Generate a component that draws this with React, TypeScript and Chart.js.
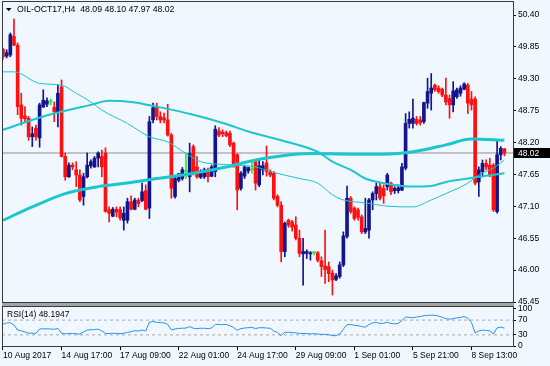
import { useEffect, useRef } from 'react';
import { Chart, registerables } from 'chart.js';

Chart.register(...registerables);

// ---- data (OIL-OCT17, H4) ----
const opens = [
  49.81, 49.69, 49.71, 50.03, 49.88, 48.85, 48.66, 48.62, 48.30, 48.45,
  48.28, 48.81, 48.86, 48.90, 48.81, 48.73, 49.16, 47.96, 47.61, 47.81,
  47.73, 47.64, 47.27, 47.61, 47.80, 47.78, 47.93, 47.96, 48.02, 47.04,
  46.93, 47.05, 47.04, 46.86, 46.86, 47.18, 47.05, 47.20, 47.20, 47.37,
  47.07, 48.59, 48.81, 48.65, 48.63, 48.59, 48.33, 47.27, 47.55, 47.58,
  47.70, 47.61, 48.13, 47.78, 47.60, 47.61, 47.73, 47.62, 47.70, 48.40,
  48.38, 48.37, 48.36, 48.19, 47.99, 47.41, 47.62, 47.71, 47.73, 47.87,
  47.47, 47.73, 47.85, 47.70, 47.67, 47.27, 47.12, 46.32, 46.86, 46.83,
  46.78, 46.55, 46.28, 46.29, 46.28, 46.30, 46.30, 46.16, 46.07, 46.06,
  45.95, 45.84, 45.89, 46.09, 46.58, 47.24, 47.07, 47.04, 46.92, 46.66,
  46.69, 47.21, 47.32, 47.44, 47.41, 47.44, 47.50, 47.37, 47.37, 47.38,
  47.76, 48.53, 48.53, 48.60, 48.59, 48.56, 48.88, 49.05, 49.19, 49.14,
  49.12, 49.02, 48.96, 48.85, 48.99, 49.05, 49.12, 49.19, 48.95, 48.95,
  47.52, 47.70, 47.84, 47.81, 47.81, 47.01, 47.99, 48.09,
];
const highs = [
  49.83, 49.80, 50.09, 50.33, 49.92, 49.05, 48.82, 48.65, 48.47, 48.50,
  48.88, 49.11, 48.97, 48.95, 48.90, 49.19, 49.28, 48.02, 47.85, 47.85,
  47.87, 47.73, 47.67, 48.02, 47.90, 47.96, 48.04, 48.07, 48.11, 47.09,
  47.08, 47.09, 47.09, 47.09, 47.24, 47.28, 47.24, 47.24, 47.50, 47.47,
  48.65, 48.88, 48.88, 48.73, 48.71, 48.86, 48.36, 47.61, 47.67, 47.77,
  48.02, 48.19, 48.16, 47.96, 47.73, 47.76, 47.76, 47.81, 48.49, 48.46,
  48.42, 48.40, 48.40, 48.21, 48.01, 47.70, 47.81, 47.78, 47.87, 47.91,
  47.90, 47.87, 48.14, 47.73, 47.70, 47.30, 47.18, 46.83, 46.88, 46.86,
  46.92, 46.69, 46.55, 46.35, 46.32, 46.32, 46.32, 46.23, 46.69, 46.14,
  46.00, 45.94, 46.14, 46.66, 47.45, 47.27, 47.09, 47.07, 46.95, 47.24,
  47.24, 47.35, 47.50, 47.50, 47.47, 47.67, 47.52, 47.44, 47.47, 47.84,
  48.70, 48.73, 48.95, 48.65, 48.65, 48.90, 49.31, 49.39, 49.21, 49.18,
  49.14, 49.31, 49.02, 49.25, 49.14, 49.18, 49.23, 49.22, 49.08, 48.99,
  47.78, 47.90, 47.90, 47.93, 47.84, 48.24, 48.13, 48.10,
];
const lows = [
  49.64, 49.66, 49.68, 49.87, 48.68, 48.50, 48.56, 48.24, 48.13, 48.24,
  48.12, 48.81, 48.82, 48.85, 48.56, 48.47, 47.95, 47.55, 47.60, 47.73,
  47.44, 47.18, 47.12, 47.59, 47.76, 47.77, 47.78, 47.61, 47.00, 46.83,
  46.92, 46.92, 46.86, 46.69, 46.81, 47.04, 47.04, 47.09, 47.18, 47.04,
  46.89, 48.54, 48.59, 48.54, 48.54, 48.31, 47.24, 47.24, 47.52, 47.55,
  47.58, 47.35, 47.64, 47.58, 47.58, 47.58, 47.52, 47.61, 47.61, 48.30,
  48.30, 48.30, 48.13, 47.78, 47.04, 47.38, 47.58, 47.67, 47.67, 47.38,
  47.44, 47.64, 47.62, 47.61, 47.21, 47.09, 46.14, 46.23, 46.74, 46.67,
  46.52, 46.23, 45.74, 46.20, 46.17, 46.26, 46.14, 45.89, 45.77, 45.80,
  45.57, 45.82, 45.86, 46.06, 46.55, 46.98, 46.86, 46.86, 46.63, 46.63,
  46.55, 47.04, 47.21, 47.21, 47.15, 47.38, 47.30, 47.32, 47.33, 47.37,
  47.73, 48.45, 48.45, 48.50, 48.50, 48.53, 48.79, 48.76, 49.08, 49.05,
  48.99, 48.85, 48.62, 48.73, 48.96, 49.00, 49.11, 48.70, 48.76, 47.47,
  47.27, 47.61, 47.73, 47.61, 47.01, 46.98, 47.90, 47.97,
];
const closes = [
  49.68, 49.75, 50.06, 49.88, 48.82, 48.62, 48.61, 48.30, 48.35, 48.30,
  48.85, 48.93, 48.92, 48.90, 48.73, 49.05, 47.96, 47.61, 47.81, 47.78,
  47.64, 47.21, 47.61, 47.81, 47.87, 47.93, 48.02, 47.78, 47.01, 46.98,
  47.05, 47.00, 46.90, 46.98, 47.18, 47.05, 47.21, 47.15, 47.35, 47.05,
  48.56, 48.80, 48.65, 48.59, 48.59, 48.33, 47.41, 47.58, 47.66, 47.73,
  47.70, 48.01, 47.67, 47.61, 47.68, 47.73, 47.61, 47.78, 48.43, 48.33,
  48.35, 48.32, 48.16, 47.78, 47.38, 47.67, 47.78, 47.77, 47.73, 47.50,
  47.80, 47.80, 47.70, 47.64, 47.24, 47.12, 46.32, 46.81, 46.78, 46.74,
  46.55, 46.29, 46.32, 46.32, 46.30, 46.30, 46.17, 46.06, 46.01, 45.94,
  45.83, 45.90, 46.09, 46.59, 47.24, 47.01, 46.89, 46.91, 46.66, 46.72,
  47.21, 47.32, 47.44, 47.24, 47.28, 47.64, 47.35, 47.41, 47.42, 47.78,
  48.53, 48.60, 48.62, 48.53, 48.54, 48.89, 49.08, 49.14, 49.11, 49.08,
  49.02, 48.90, 48.85, 49.09, 49.11, 49.14, 49.21, 48.88, 48.85, 47.50,
  47.73, 47.84, 47.78, 47.64, 47.04, 47.99, 48.10, 48.02,
];
const rsiValues = [
  59, 62, 63, 57, 43, 41, 38, 34.5, 34.5, 34,
  46, 46.5, 46.5, 46, 45, 47.5, 34.5, 33, 34, 34,
  33, 32, 38, 43, 44, 44.5, 45.5, 40.5, 34, 33.5,
  34.5, 34, 33.5, 34.5, 36.5, 39, 41.5, 40.5, 43, 40.5,
  64.5, 66, 64, 63, 62.5, 58.5, 43.5, 46, 47.5, 48,
  48.5, 52.5, 48, 47, 48, 48, 47, 48.5, 58.5, 58,
  58, 58, 55, 50, 42.5, 47, 48.5, 49.5, 50.5, 47,
  49.5, 49.5, 48.5, 48, 40.5, 36.5, 28, 37, 37, 36.5,
  35.5, 34, 34, 33.5, 33, 33, 32.5, 31.5, 31.5, 30.5,
  28, 28, 32.5, 45.5, 58, 58, 56, 55, 52.5, 51,
  58, 62.5, 63.5, 61, 61.5, 64, 61, 60, 61, 69,
  78.5, 77.5, 76.5, 78.5, 79.5, 82, 83, 83, 83, 81,
  77.5, 74, 72.5, 74, 76, 77.5, 79.5, 75, 63.5, 35,
  41, 43, 42, 41, 32.5, 49, 51, 48.1947,
];

// moving averages read at selected bars
const slowMaBars = [0, 8, 17, 26, 35, 42, 52, 61, 69, 76, 84, 95, 104, 112, 121, 128, 137];
const slowMaValues = [46.86, 47.09, 47.32, 47.44, 47.51, 47.58, 47.67, 47.78, 47.9, 47.97, 48.01, 48.0, 48.0, 48.04, 48.16, 48.26, 48.24];
const midMaBars = [0, 11, 24, 29, 35, 42, 52, 61, 67, 76, 86, 90, 95, 99, 104, 112, 117, 121, 127, 130, 137];
const midMaValues = [48.42, 48.65, 48.85, 48.92, 48.9, 48.82, 48.68, 48.52, 48.39, 48.24, 48.04, 47.87, 47.73, 47.58, 47.5, 47.44, 47.45, 47.52, 47.58, 47.61, 47.67];
const thinMaBars = [0, 3, 10, 16, 20, 24, 27, 34, 40, 45, 50, 54, 61, 69, 73, 81, 86, 90, 93, 99, 104, 112, 117, 121, 127, 130, 134, 137];
const thinMaValues = [49.42, 49.42, 49.22, 49.19, 49.05, 48.9, 48.76, 48.53, 48.3, 48.21, 48.01, 47.87, 47.82, 47.78, 47.7, 47.58, 47.5, 47.3, 47.21, 47.16, 47.11, 47.09, 47.21, 47.32, 47.5, 47.64, 47.76, 47.9];

const timeTickBars = [0, 16, 32, 48, 64, 80, 96, 112, 128];
const timeTickLabels = ['10 Aug 2017', '14 Aug 17:00', '17 Aug 09:00', '22 Aug 01:00', '24 Aug 17:00', '29 Aug 09:00', '1 Sep 01:00', '5 Sep 21:00', '8 Sep 13:00'];
const priceTicks = [45.45, 46.0, 46.55, 47.1, 47.65, 48.2, 48.75, 49.3, 49.85, 50.4];
const rsiTicks = [0, 30, 70, 100];
const rsiLevels = [30, 70];
const symbolName = 'OIL-OCT17,H4';
const rsiName = 'RSI(14)';

// ---- styling / layout ----
const BG = '#F0F7FE';
const BULL = '#14148c';
const BEAR = '#ff1010';
const DOJI = '#2ee82e';
const MA_COLOR = '#1cc6ce';
const FONT = { family: 'Liberation Sans, Arial, sans-serif', size: 8.5 };

const X_MIN = -0.273;
const X_MAX = 139.344;
// price pane spans the top 306 px of the plot, RSI pane the bottom 39 px
const PRICE_PANE = 306;
const RSI_PANE = 39;
const P_MAX = 50.6415;
const P_MIN = 45.3638;
const R_MAX = 105.4;

export default function App() {
  const ref = useRef<HTMLCanvasElement | null>(null);

  useEffect(() => {
    document.body.style.margin = '0';
    const canvas = ref.current;
    if (!canvas) return;
    const n = closes.length;
    const idx = closes.map((_, i) => i);
    const colorOf = (i: number) => (closes[i] > opens[i] ? BULL : closes[i] < opens[i] ? BEAR : DOJI);
    const last = n - 1;

    const overlay = {
      id: 'mt4overlay',
      beforeDraw(chart: any) {
        const c = chart.ctx;
        c.save();
        c.fillStyle = BG;
        c.fillRect(0, 0, chart.width, chart.height);
        c.restore();
      },
      afterDraw(chart: any) {
        const c = chart.ctx as CanvasRenderingContext2D;
        const area = chart.chartArea;
        const yS = chart.scales.y;
        c.save();
        // separator between panes
        c.fillStyle = '#a4a4a4';
        c.fillRect(area.left, 303, area.right - area.left + 1, 4);
        c.strokeStyle = '#555555';
        c.lineWidth = 1;
        c.beginPath();
        c.moveTo(area.left, 302.5); c.lineTo(area.right + 1, 302.5);
        c.moveTo(area.left, 306.5); c.lineTo(area.right + 1, 306.5);
        c.stroke();
        // frames
        c.strokeStyle = '#3a3a3a';
        c.strokeRect(area.left + 0.5, area.top + 0.5, area.right - area.left, 302 - area.top);
        c.strokeRect(area.left + 0.5, 306.5, area.right - area.left, area.bottom - 306);
        // title
        c.fillStyle = '#000';
        c.beginPath();
        c.moveTo(6, 8); c.lineTo(11.5, 8); c.lineTo(8.75, 11.2); c.closePath();
        c.fill();
        c.font = `8.7px ${FONT.family}`;
        c.textBaseline = 'middle';
        c.textAlign = 'left';
        const f = (v: number) => v.toFixed(2);
        c.fillText(`${symbolName}  ${f(opens[last])} ${f(highs[last])} ${f(lows[last])} ${f(closes[last])}`, 17, 9.5);
        c.font = `8.5px ${FONT.family}`;
        c.fillText(`${rsiName} ${rsiValues[last].toFixed(4)}`, 7, 315);
        // current price tag
        const py = yS.getPixelForValue(closes[last]);
        c.fillStyle = '#000';
        c.fillRect(514, Math.round(py) - 5, 36, 10);
        c.fillStyle = '#fff';
        c.fillText(closes[last].toFixed(2), 518, Math.round(py) + 0.5);
        c.restore();
      },
    };

    const line = (bars: number[], vals: number[], width: number, order: number) => ({
      type: 'line',
      yAxisID: 'y',
      data: bars.map((b, k) => ({ x: b, y: vals[k] })),
      borderColor: MA_COLOR,
      borderWidth: width,
      pointRadius: 0,
      cubicInterpolationMode: 'monotone',
      order,
    });

    const chart = new Chart(canvas, {
      type: 'bar',
      data: {
        datasets: [
          {
            type: 'line',
            yAxisID: 'yRsi',
            data: rsiValues.map((v, i) => ({ x: i, y: v })),
            borderColor: '#2b93f0',
            borderWidth: 1,
            pointRadius: 0,
            order: 0,
          },
          ...rsiLevels.map((lv) => ({
            type: 'line',
            yAxisID: 'yRsi',
            data: [{ x: X_MIN, y: lv }, { x: X_MAX, y: lv }],
            borderColor: '#a9a9a9',
            borderWidth: 1,
            borderDash: [3, 3],
            pointRadius: 0,
            order: 1,
          })),
          line(thinMaBars, thinMaValues, 1, 1),
          line(midMaBars, midMaValues, 2, 2),
          line(slowMaBars, slowMaValues, 3, 3),
          {
            type: 'bar',
            yAxisID: 'y',
            data: idx.map((i) => ({ x: i, y: [opens[i], closes[i]] })),
            backgroundColor: idx.map(colorOf),
            barThickness: 3,
            minBarLength: 1,
            grouped: false,
            order: 4,
          },
          {
            type: 'bar',
            yAxisID: 'y',
            data: idx.map((i) => ({ x: i, y: [lows[i], highs[i]] })),
            backgroundColor: idx.map(colorOf),
            barThickness: 1,
            grouped: false,
            order: 5,
          },
          {
            type: 'line',
            yAxisID: 'y',
            data: [{ x: X_MIN, y: closes[last] }, { x: X_MAX, y: closes[last] }],
            borderColor: '#8e8e8e',
            borderWidth: 1,
            pointRadius: 0,
            order: 6,
          },
        ] as any,
      },
      options: {
        responsive: false,
        animation: false,
        devicePixelRatio: 1,
        events: [],
        layout: { padding: { left: 2, top: 1, right: 0, bottom: 0 } },
        plugins: { legend: { display: false }, tooltip: { enabled: false } },
        scales: {
          x: {
            type: 'linear',
            offset: false,
            min: X_MIN,
            max: X_MAX,
            afterBuildTicks: (s: any) => { s.ticks = timeTickBars.map((v) => ({ value: v })); },
            afterFit: (s: any) => { s.height = 20; s.paddingLeft = 0; s.paddingRight = 0; },
            ticks: {
              callback: (_v: any, i: number) => timeTickLabels[i],
              align: 'start',
              maxRotation: 0,
              minRotation: 0,
              autoSkip: false,
              padding: 1,
              color: '#000',
              font: FONT,
            },
            grid: { offset: false, drawOnChartArea: false, drawTicks: true, tickLength: 4, color: '#000' },
            border: { display: false },
          },
          y: {
            type: 'linear',
            position: 'right',
            stack: 'panes',
            stackWeight: PRICE_PANE,
            weight: 0,
            min: P_MIN,
            max: P_MAX,
            afterBuildTicks: (s: any) => { s.ticks = priceTicks.map((v) => ({ value: v })); },
            afterFit: (s: any) => { s.width = 37; s.paddingTop = 0; s.paddingBottom = 0; },
            ticks: { autoSkip: false, padding: 2, color: '#000', font: FONT, callback: (v: any) => Number(v).toFixed(2) },
            grid: { drawOnChartArea: false, drawTicks: true, tickLength: 3, color: '#000' },
            border: { display: false },
          },
          yRsi: {
            type: 'linear',
            axis: 'y',
            position: 'right',
            stack: 'panes',
            stackWeight: RSI_PANE,
            weight: 1,
            min: 0,
            max: R_MAX,
            afterBuildTicks: (s: any) => { s.ticks = rsiTicks.map((v) => ({ value: v })); },
            afterFit: (s: any) => { s.width = 37; s.paddingTop = 0; s.paddingBottom = 0; },
            ticks: { autoSkip: false, padding: 2, color: '#000', font: FONT, callback: (v: any) => String(v) },
            grid: { drawOnChartArea: false, drawTicks: true, tickLength: 3, color: '#000' },
            border: { display: false },
          },
        },
      } as any,
      plugins: [overlay],
    });

    return () => chart.destroy();
  }, []);

  return (
    <div style={{ position: 'fixed', left: 0, top: 0, width: 550, height: 366, background: BG }}>
      <canvas ref={ref} width={550} height={366} style={{ display: 'block' }} />
    </div>
  );
}
